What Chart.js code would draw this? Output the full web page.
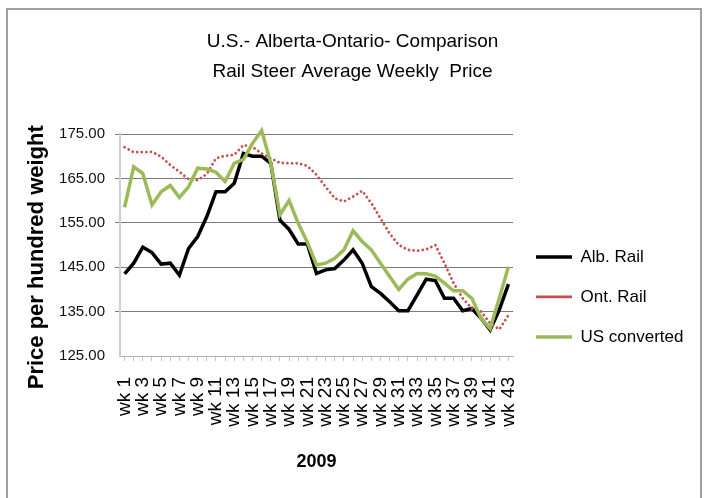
<!DOCTYPE html>
<html>
<head>
<meta charset="utf-8">
<script src="https://cdn.jsdelivr.net/npm/chart.js@4/dist/chart.umd.min.js"></script>
<style>
  body { margin: 0; background: #fff; }
  #wrap { position: relative; width: 705px; height: 498px; overflow: hidden; }
  #frame { position: absolute; left: 6px; top: 8px; width: 696px; height: 500px; box-sizing: border-box;
           border: 2px solid #a0a0a0; pointer-events: none; }
</style>
</head>
<body>
<div id="wrap">
  <canvas id="chart" width="705" height="498"></canvas>
  <div id="frame"></div>
</div>
<script>
// semaines 2009 : wk 1 .. wk 43
const weeks = [];
for (let i = 1; i <= 43; i++) weeks.push('wk ' + i);

const albRail = [143.5, 145.9, 149.5, 148.3, 145.7, 145.9, 143.2, 149.2, 151.9, 156.4,
                 162.0, 162.0, 163.9, 170.6, 170.0, 170.0, 168.4, 155.6, 153.5, 150.2,
                 150.2, 143.6, 144.4, 144.7, 146.6, 148.9, 145.9, 140.6, 139.1, 137.2,
                 135.2, 135.2, 138.7, 142.3, 142.0, 138.0, 138.0, 135.2, 135.7, 133.5,
                 130.9, 135.4, 141.2];
const ontRail = [172.0, 170.9, 170.9, 171.0, 169.9, 168.0, 166.5, 164.8, 164.6, 166.0,
                 169.5, 170.1, 170.3, 172.5, 172.1, 170.6, 169.5, 168.5, 168.4, 168.4,
                 167.8, 165.8, 163.1, 160.5, 159.8, 160.9, 162.2, 159.4, 156.0, 152.6,
                 150.0, 148.9, 148.7, 149.0, 150.0, 145.9, 141.4, 138.0, 135.7, 135.0,
                 132.4, 131.0, 134.2];
const usConverted = [158.5, 167.6, 166.1, 159.0, 162.0, 163.4, 160.7, 163.1, 167.3, 167.1,
                     166.4, 164.3, 168.4, 169.3, 172.9, 175.8, 168.4, 156.8, 160.0, 154.9,
                     150.6, 145.5, 145.9, 147.0, 148.9, 153.2, 150.8, 148.9, 145.9, 142.9,
                     140.0, 142.3, 143.6, 143.5, 143.0, 141.4, 139.7, 139.7, 138.0, 133.5,
                     131.2, 138.0, 145.1];

const yMin = 125, yMax = 175, yStep = 10;

const sans = "'Liberation Sans', Arial, sans-serif";

new Chart(document.getElementById('chart'), {
    type: 'line',
    data: {
        labels: weeks,
        datasets: [
            { label: 'Alb. Rail', data: albRail, borderColor: '#000', backgroundColor: '#000',
              borderWidth: 3.5, pointRadius: 0, pointStyle: 'line', tension: 0, clip: false, order: 3 },
            { label: 'Ont. Rail', data: ontRail, borderColor: '#c8504c', backgroundColor: '#c8504c',
              borderWidth: 2.8, borderDash: [0.01, 4.6], borderCapStyle: 'round',
              pointRadius: 0, pointStyle: 'line', tension: 0, clip: false, order: 2 },
            { label: 'US converted', data: usConverted, borderColor: '#9bbb59', backgroundColor: '#9bbb59',
              borderWidth: 3.5, pointRadius: 0, pointStyle: 'line', tension: 0, clip: false, order: 1 }
        ]
    },
    options: {
        responsive: false,
        animation: false,
        layout: { padding: { left: 0, top: 0, bottom: 0, right: 21 } },
        plugins: {
            title: {
                display: true,
                // espaces en tête : recentre le titre sur toute la largeur
                text: ['    U.S.- Alberta-Ontario- Comparison', '    Rail Steer Average Weekly  Price'],
                color: '#000',
                font: { family: sans, size: 19, weight: 'normal', lineHeight: 30 / 19 },
                padding: { top: 27, bottom: 47 }
            },
            legend: {
                position: 'right',
                align: 'start',
                // titre vide : sert seulement à descendre la légende
                title: { display: true, text: ' ', font: { size: 12 }, padding: { top: 211, bottom: 0 } },
                labels: {
                    usePointStyle: true,
                    pointStyleWidth: 36,
                    padding: 23,
                    color: '#000',
                    font: { family: sans, size: 17 },
                    sort: (a, b) => a.datasetIndex - b.datasetIndex
                }
            },
            tooltip: { enabled: false }
        },
        scales: {
            x: {
                offset: true,
                grid: { display: true, drawOnChartArea: false, drawTicks: true, tickLength: 5, color: '#c4c4c4' },
                border: { display: true, color: '#b0b0b0' },
                ticks: {
                    autoSkip: false, minRotation: 90, maxRotation: 90, padding: 16,
                    color: '#000', font: { family: sans, size: 19 },
                    callback: function (value, index) { return index % 2 === 0 ? this.getLabelForValue(value) : ''; }
                },
                title: { display: true, text: '2009', color: '#000',
                         font: { family: sans, size: 18, weight: 'bold' }, padding: { top: 0, bottom: 25 } },
                afterFit: s => { s.height = 142; }
            },
            y: {
                min: yMin, max: yMax,
                grid: { color: c => (c.tick && c.tick.value === yMin) ? 'rgba(0,0,0,0)' : '#7a7a7a',
                        tickLength: 5, lineWidth: 1 },
                border: { display: true, color: '#d0d0d0', width: 2 },
                ticks: { stepSize: yStep, padding: 10, color: '#111', font: { family: sans, size: 15 },
                         callback: v => v.toFixed(2) },
                // espaces finaux : décale le titre vers le bas comme dans l'original
                title: { display: true, text: 'Price per hundred weight    ', color: '#000',
                         font: { family: sans, size: 22, weight: 'bold' }, padding: { top: 24, bottom: 0 } },
                afterFit: s => { s.width = 120; }
            }
        }
    }
});
</script>
</body>
</html>
